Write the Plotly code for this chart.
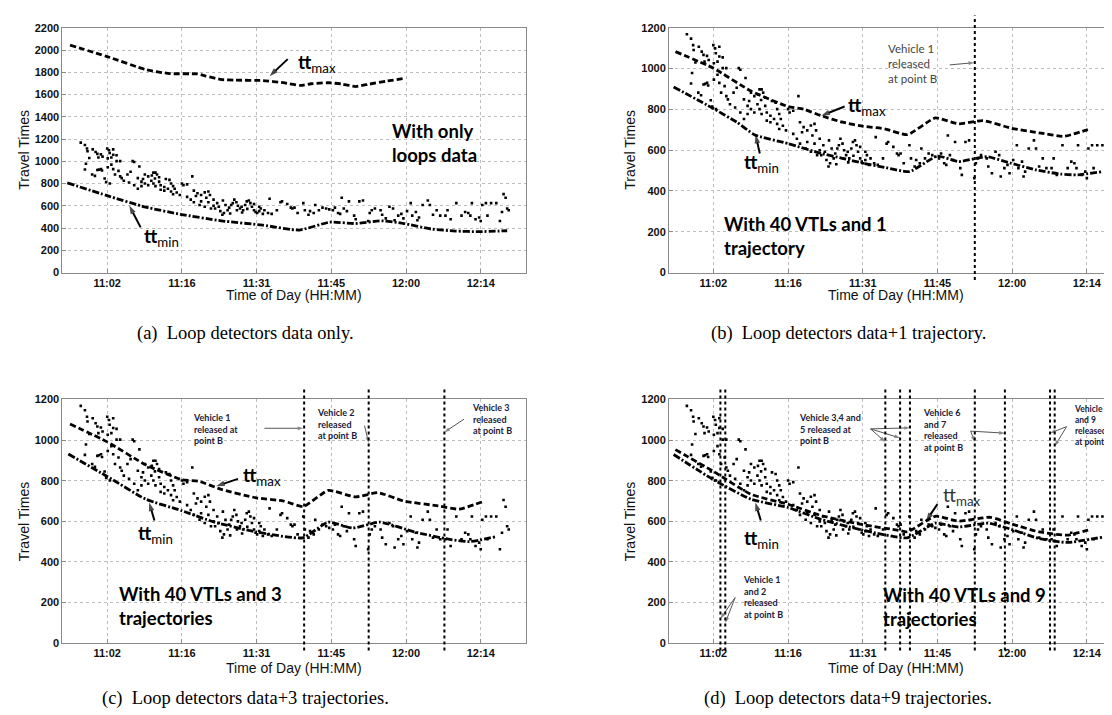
import plotly.graph_objects as go

W, H = 1112, 715

# ---------------- data ----------------
tick_vals = [2.5, 16.9, 31.3, 45.7, 60.1, 74.5]
tick_text = ["11:02", "11:16", "11:31", "11:45", "12:00", "12:14"]

# observed travel times (minutes after 11:00, seconds)
pts_t = [-2.6, -1.8, -1.4, -1.3, -0.3, 0.26, 0.6, 1.28, 1.6, 0.8, -0.96, -1.6, -1.8, 0.6, 0.9, 1.3, 1.5, 0.13, -0.4, 2.0, 2.3, 3.0,
         2.5, 2.84, 3.65, 2.97, 3.65, 4.3, 2.6, 3.3, 4.3, 5.0, 3.3, 2.6, 3.65, 4.67, 4.0, 5.0, 5.3, 6.4, 7.0, 7.4, 7.7, 8.7, 8.4,
         6.7, 7.7, 8.4, 5.7, 9.1, 9.4, 9.75, 10.4, 11.1, 11.4, 11.8, 12.1, 12.5, 11.7, 11.0, 11.4, 11.8, 10.4, 9.75, 9.1, 12.5,
         12.8, 13.5, 13.8, 14.5, 14.8, 15.2, 15.5, 15.9, 15.2, 16.5, 14.8, 14.2, 13.5, 12.8,
         16.9, 17.2, 17.9, 18.9, 19.2, 19.9, 20.6, 19.6, 18.6, 17.9, 21.3, 22.0, 22.3, 21.6, 20.6, 22.0, 23.0, 23.7, 24.0, 23.3,
         24.3, 25.0, 24.7, 25.7, 26.0, 26.4, 26.7, 27.0, 27.4, 27.7, 28.1, 28.4, 28.7, 29.1, 29.4, 29.8, 30.1, 30.4, 30.8, 31.1,
         31.4, 31.8, 32.1, 32.5, 32.8, 31.8, 30.8, 29.5, 28.5, 27.5, 26.2, 25.3, 24.8, 23.0, 22.5, 21.3, 20.3, 19.2,
         33.8, 33.5, 34.2, 35.2, 35.9, 36.2, 37.2, 37.9, 38.2, 38.6, 39.2, 40.3, 40.6, 41.3, 41.6, 42.3, 42.6, 43.3, 44.0, 44.7,
         45.3, 46.0, 46.4, 47.0, 47.7, 47.4, 48.1, 48.7, 49.1, 50.1, 50.4, 51.1, 51.8,
         52.8, 53.1, 53.5, 54.1, 55.2, 55.5, 56.2, 56.9, 57.6, 57.9, 58.6, 59.2, 59.6, 60.3, 61.0, 61.3, 62.0, 62.3, 62.6, 63.3,
         64.3, 64.7,
         65.3, 66.0, 66.7, 67.7, 68.1, 68.7, 69.8, 70.8, 71.5, 72.1, 72.5, 72.8, 73.5, 74.2, 74.5, 74.8, 75.5, 75.8, 76.5, 77.5,
         78.2, 78.6, 78.9, 79.3, 79.6, 79.9]
pts_v = [1168, 1147, 1115, 1091, 1107, 1083, 1067, 1062, 1042, 1034, 1030, 978, 927, 922, 925, 930, 917, 869, 882, 845, 814, 801,
         1115, 1099, 1107, 1075, 1059, 1055, 1026, 1034, 1002, 1002, 970, 946, 930, 914, 882, 865, 849, 882, 906, 1002, 994, 954, 849,
         809, 785, 753, 825, 817, 841, 882, 865, 873, 898, 898, 882, 857, 846, 825, 801, 777, 785, 801, 777, 817,
         785, 769, 841, 833, 801, 777, 753, 720, 704, 697, 729, 753, 737, 745,
         801, 785, 793, 865, 737, 713, 697, 688, 656, 680, 721, 729, 697, 672, 640, 632, 656, 624, 592, 576,
         552, 536, 520, 560, 584, 608, 624, 656, 632, 600, 576, 592, 560, 608, 640, 648, 624, 592, 560, 544,
         536, 552, 576, 528, 560, 592, 616, 573, 540, 560, 531, 608, 648, 600, 576, 592, 608, 632,
         664, 536, 528, 560, 632, 640, 616, 584, 576, 584, 536, 624, 560, 520, 552, 536, 608, 560, 584, 576,
         568, 560, 584, 536, 672, 528, 576, 552, 640, 512, 479, 640, 648,
         463, 536, 560, 576, 560, 520, 487, 592, 576, 471, 512, 528, 487, 552, 624, 512, 544, 471, 495, 608,
         648, 608,
         520, 560, 512, 512, 560, 479, 624, 512, 544, 536, 512, 624, 479, 495, 463, 608, 624, 512, 624, 624,
         463, 544, 705, 672, 576, 560]

# (a) loops only
a_max_t = [-4.67, 2.5, 9.93, 14.58, 19.9, 21.54, 24.53, 27.18, 32.5, 36.47, 39.79, 41.78, 45.1, 47.75, 50.41, 53.06, 56.38, 59.7]
a_max_v = [2044, 1941, 1824, 1788, 1785, 1765, 1735, 1729, 1726, 1706, 1682, 1697, 1706, 1694, 1672, 1694, 1721, 1744]
a_min_t = [-5.2, 2.5, 9.93, 16.6, 24.5, 32.5, 39.5, 45.4, 50.4, 55.4, 59.7, 65.0, 69.7, 74.3, 79.6]
a_min_v = [806, 691, 588, 524, 465, 426, 382, 453, 441, 465, 441, 391, 373, 368, 376]

# (b) 40 VTLs + 1 trajectory
b_max_t = [-4.8, 2.5, 9.75, 16.9, 19.9, 23.3, 27.4, 31.4, 35.5, 39.9, 45.3, 49.75, 54.5, 59.9, 65.3, 70.1, 74.7]
b_max_v = [1083, 1002, 890, 814, 801, 769, 737, 717, 705, 676, 758, 729, 745, 708, 685, 668, 701]
b_min_t = [-5.16, 2.5, 7.04, 10.4, 16.9, 23.3, 27.4, 31.4, 35.5, 40.3, 45.7, 49.75, 55.2, 59.9, 64.7, 69.4, 72.8, 77.5]
b_min_v = [910, 804, 737, 676, 632, 584, 560, 536, 516, 495, 571, 544, 568, 536, 503, 483, 479, 495]
b_release = [52.9]

# (c) 40 VTLs + 3 trajectories
c_max_t = [-4.67, 2.5, 9.93, 16.9, 20.2, 24.5, 31.2, 36.5, 40.3, 45.1, 50.4, 54.7, 59.7, 66.3, 70.3, 74.8]
c_max_v = [1079, 991, 878, 805, 797, 757, 716, 700, 673, 752, 720, 741, 700, 676, 660, 696]
c_min_t = [-5.0, 2.5, 9.93, 16.9, 23.2, 31.2, 40.2, 45.1, 49.8, 55.1, 61.7, 68.3, 72.3, 77.3]
c_min_v = [931, 821, 709, 652, 596, 548, 519, 596, 567, 596, 548, 512, 500, 524]
c_release = [40.46, 52.9, 67.5]

# (d) 40 VTLs + 9 trajectories
d_max_t = [-4.82, 2.5, 9.75, 16.9, 23.3, 31.4, 38.2, 39.9, 45.3, 49.75, 55.9, 59.9, 65.3, 70.7, 75.3]
d_max_v = [953, 846, 733, 684, 628, 583, 556, 548, 625, 601, 620, 588, 548, 532, 561]
d_min_t = [-5.16, 2.5, 9.75, 16.9, 23.3, 31.4, 39.9, 45.3, 49.75, 55.5, 59.9, 65.3, 70.7, 77.5]
d_min_v = [929, 805, 709, 668, 609, 556, 519, 591, 572, 591, 561, 515, 496, 522]
d_release = [3.86, 4.8, 35.65, 38.5, 40.4, 52.9, 58.7, 67.4, 68.3]

# ---------------- layout helpers ----------------
def px(x):
    return x / W

def py(y):
    return 1 - y / H

PX_PER_MIN = 74.7 / 14.4
LEFT_X = (54.4, 518.2)
RIGHT_X = (661, 1112)
TOP_Y = (14, 263)
BOT_Y = (392, 640)
XR_LEFT = [-6.14, -6.14 + (LEFT_X[1] - LEFT_X[0]) / PX_PER_MIN]
XR_RIGHT = [-6.05, -6.05 + (RIGHT_X[1] - RIGHT_X[0]) / PX_PER_MIN]

panels = [
    ("", LEFT_X, TOP_Y, XR_LEFT, 2200, True),
    ("2", RIGHT_X, TOP_Y, XR_RIGHT, 1200, False),
    ("3", LEFT_X, BOT_Y, XR_LEFT, 1200, True),
    ("4", RIGHT_X, BOT_Y, XR_RIGHT, 1200, False),
]

fig = go.Figure()
FRAME = "#8a8a8a"
GRID = "#bdbdbd"
tickfont = dict(family="Liberation Sans, Arial", size=11, color="#111", weight="bold")

layout = dict(width=W, height=H, margin=dict(l=0, r=0, t=0, b=0),
              paper_bgcolor="white", plot_bgcolor="white", showlegend=False)
for suf, xd, yd, xr, ymax, right_frame in panels:
    layout["xaxis" + suf] = dict(domain=[px(xd[0]), px(xd[1])], range=xr, anchor="y" + suf,
                                 tickvals=tick_vals, ticktext=tick_text, tickfont=tickfont,
                                 showline=True, linecolor=FRAME, linewidth=1, mirror=True,
                                 ticks="inside", ticklen=4, tickcolor=FRAME,
                                 showgrid=True, gridcolor=GRID, griddash="dot", gridwidth=1,
                                 zeroline=False, fixedrange=True)
    layout["yaxis" + suf] = dict(domain=[py(yd[1]), py(yd[0])], range=[0, ymax], anchor="x" + suf,
                                 dtick=200, tickfont=tickfont,
                                 showline=True, linecolor=FRAME, linewidth=1, mirror=right_frame,
                                 ticks="inside", ticklen=4, tickcolor=FRAME,
                                 showgrid=True, gridcolor=GRID, griddash="dot", gridwidth=1,
                                 zeroline=False, fixedrange=True)
fig.update_layout(**layout)

series = [
    ("", a_max_t, a_max_v, a_min_t, a_min_v),
    ("2", b_max_t, b_max_v, b_min_t, b_min_v),
    ("3", c_max_t, c_max_v, c_min_t, c_min_v),
    ("4", d_max_t, d_max_v, d_min_t, d_min_v),
]
for suf, mt, mv, nt, nv in series:
    xa, ya = "x" + suf, "y" + suf
    fig.add_trace(go.Scatter(x=pts_t, y=pts_v, mode="markers", xaxis=xa, yaxis=ya,
                             marker=dict(size=2.6, color="black", symbol="square"), hoverinfo="skip"))
    fig.add_trace(go.Scatter(x=mt, y=mv, mode="lines", xaxis=xa, yaxis=ya,
                             line=dict(color="black", width=2.8, dash="6px,3px", shape="spline", smoothing=0.5)))
    fig.add_trace(go.Scatter(x=nt, y=nv, mode="lines", xaxis=xa, yaxis=ya,
                             line=dict(color="black", width=2.8, dash="7px,2px,2px,2px", shape="spline", smoothing=0.5)))

# vehicle release lines
for suf, rel in (("2", b_release), ("3", c_release), ("4", d_release)):
    for t in rel:
        fig.add_shape(type="line", xref="x" + suf, yref="y" + suf + " domain", x0=t, x1=t, y0=-0.03, y1=1.05,
                      line=dict(color="black", width=2, dash="dot"))

ann = []
def text(suf, x, y, s, size=12, color="black", bold=False, family="Lato, Open Sans, sans-serif", xanchor="left",
         xref=None):
    ann.append(dict(xref=xref or ("x" + suf), yref="y" + suf, x=x, y=y, text=s, showarrow=False, xanchor=xanchor,
                    yanchor="middle", align="left",
                    font=dict(family=family, size=size, color=color, weight="bold" if bold else "normal")))

def arrow(suf, tail, tip, color="black", width=2, head=9):
    fig.add_trace(go.Scatter(x=[tail[0], tip[0]], y=[tail[1], tip[1]], mode="lines+markers",
                             xaxis="x" + suf, yaxis="y" + suf, cliponaxis=False, hoverinfo="skip",
                             line=dict(color=color, width=width),
                             marker=dict(symbol=["circle", "arrow"], size=[0, head], angleref="previous",
                                         color=color, line=dict(width=0))))

TT_MAX = "<b>tt</b><sub>max</sub>"
TT_MIN = "<b>tt</b><sub>min</sub>"
VFONT = "Lato, sans-serif"
VCOL = "#1a1a3a"
VS = 9
BIG = 18.5

# (a)
text("", 38.8, 1882, TT_MAX, size=19)
arrow("", (37.3, 1918), (33.8, 1765))
text("", 9.27, 323, TT_MIN, size=19)
arrow("", (8.94, 406), (6.75, 603))
text("", 57.05, 1162, "With only<br>loops data", size=BIG, bold=True)

# (b)
text("2", 28.0, 817, TT_MAX, size=19)
arrow("2", (27.8, 814), (23.3, 769))
text("2", 8.06, 536, TT_MIN, size=19)
arrow("2", (11.45, 584), (10.64, 676))
text("2", 4.13, 180, "With 40 VTLs and 1<br>trajectory", size=BIG, bold=True)
text("2", 35.86, 1023, "Vehicle 1<br>released<br>at point B", size=11.5, color="#444")
arrow("2", (48.06, 1018), (52.8, 1029), color="#555", width=1, head=6)

# (c)
text("3", 28.2, 821, TT_MAX, size=19)
arrow("3", (27.7, 809), (23.5, 773))
text("3", 8.07, 540, TT_MIN, size=19)
arrow("3", (11.6, 604), (10.6, 693))
text("3", 4.3, 182, "With 40 VTLs and 3<br>trajectories", size=BIG, bold=True)
text("3", 18.56, 1055, "Vehicle 1<br>released at<br>point B", size=VS, color=VCOL, bold=True, family=VFONT)
text("3", 42.6, 1079, "Vehicle 2<br>released<br>at point B", size=VS, color=VCOL, bold=True, family=VFONT)
text("3", 72.4, 1103, "Vehicle 3<br>released<br>at point B", size=VS, color=VCOL, bold=True, family=VFONT)
arrow("3", (32.8, 1058), (40.3, 1058), color="#555", width=1, head=6)
arrow("3", (52.1, 1071), (52.9, 986), color="#555", width=1, head=6)
arrow("3", (71.3, 1103), (67.5, 1039), color="#555", width=1, head=6)

# (d)
text("4", 46.4, 725, "tt<sub>max</sub>", size=19, color="#333")
arrow("4", (45.7, 685), (43.5, 601))
text("4", 8.06, 515, TT_MIN, size=19)
arrow("4", (11.65, 604), (10.6, 693))
text("4", 34.8, 180, "With 40 VTLs and 9<br>trajectories", size=BIG, bold=True)
text("4", 7.9, 227, "Vehicle 1<br>and 2<br>released<br>at point B", size=VS, color=VCOL, bold=True, family=VFONT)
text("4", 18.6, 1055, "Vehicle 3,4 and<br>5 released at<br>point B", size=VS, color=VCOL, bold=True, family=VFONT)
text("4", 42.6, 1049, "Vehicle 6<br>and 7<br>released<br>at point B", size=VS, color=VCOL, bold=True, family=VFONT)
text("4", px(1106), 1071, "Vehicle 8<br>and 9<br>released<br>at point B", size=8.5, color=VCOL, bold=True,
     family=VFONT, xanchor="right", xref="paper")
for tip in [(3.86, 121), (4.8, 100)]:
    arrow("4", (6.7, 225), tip, color="#555", width=1, head=6)
for tip in [(35.65, 991), (38.5, 1010), (40.4, 1060)]:
    arrow("4", (32.8, 1055), tip, color="#555", width=1, head=6)
for tip in [(52.9, 991), (58.7, 1034)]:
    arrow("4", (52.1, 1044), tip, color="#555", width=1, head=6)
for tip in [(67.4, 1034), (68.3, 970)]:
    arrow("4", (70.6, 1066), tip, color="#555", width=1, head=6)

# axis titles and captions (paper coords)
def ptext(x, y, s, size, family, angle=0, color="#111"):
    ann.append(dict(xref="paper", yref="paper", x=px(x), y=py(y), text=s, showarrow=False,
                    xanchor="center", yanchor="middle", textangle=angle,
                    font=dict(family=family, size=size, color=color)))

SANS = "Liberation Sans, Arial"
SERIF = "Liberation Serif, Times New Roman, serif"
for xc, yc in ((16, 138), (622, 138), (16, 516), (622, 516)):
    ptext(xc, yc, "Travel Times", 14, SANS, angle=-90)
for xc, yc in ((286, 286), (888, 286), (286, 665), (888, 665)):
    ptext(xc, yc, "Time of Day (HH:MM)", 14, SANS)
captions = ["(a)  Loop detectors data only.", "(b)  Loop detectors data+1 trajectory.",
            "(c)  Loop detectors data+3 trajectories.", "(d)  Loop detectors data+9 trajectories."]
for (xc, yc), cap in zip(((237, 325), (840, 325), (237, 696), (840, 696)), captions):
    ptext(xc, yc, cap, 18.5, SERIF, color="black")

fig.update_layout(annotations=ann)
fig.write_html("out.html")
